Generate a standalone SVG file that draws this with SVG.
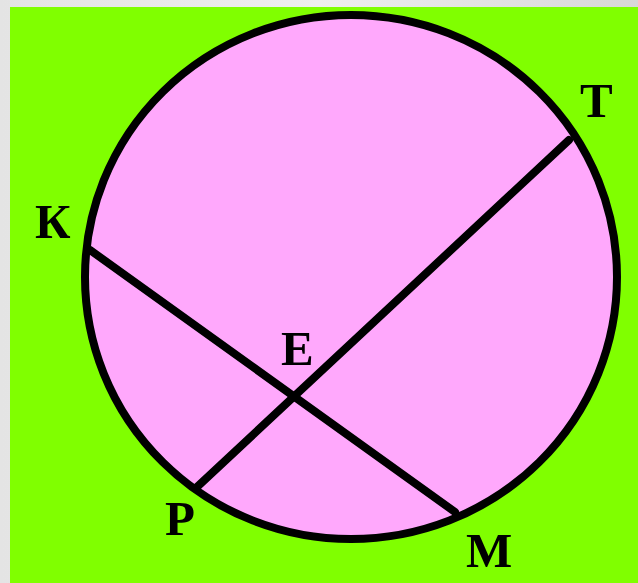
<svg xmlns="http://www.w3.org/2000/svg" width="638" height="583" viewBox="0 0 638 583">
  <defs>
    <linearGradient id="bg" x1="0" y1="0" x2="1" y2="0">
      <stop offset="0" stop-color="#e4e4e4"/>
      <stop offset="0.5" stop-color="#efefef"/>
      <stop offset="1" stop-color="#d8d8d8"/>
    </linearGradient>
  </defs>
  <style>
    .lbl { font-family: "Liberation Serif", "Times New Roman", serif; font-weight: bold; font-size: 49px; fill: #000; }
    .chord { stroke: #000; stroke-width: 8; stroke-linecap: round; fill: none; }
  </style>
  <rect x="0" y="0" width="638" height="583" fill="url(#bg)"/>
  <rect x="10" y="7" width="628" height="576" fill="#80ff00"/>
  <g id="circle">
    <ellipse cx="351" cy="277" rx="266" ry="262" fill="#ffa8fc" stroke="#000" stroke-width="8"/>
  </g>
  <g id="connectors">
    <line class="chord" x1="90" y1="250" x2="455" y2="512"/>
    <line class="chord" x1="569" y1="140" x2="197" y2="487"/>
  </g>
  <g id="label-T"><text class="lbl" x="580" y="117">Т</text></g>
  <g id="label-K"><text class="lbl" x="35" y="238">К</text></g>
  <g id="label-E"><text class="lbl" x="281" y="365">Е</text></g>
  <g id="label-P"><text class="lbl" x="165" y="535">Р</text></g>
  <g id="label-M"><text class="lbl" x="466" y="567">М</text></g>
</svg>
